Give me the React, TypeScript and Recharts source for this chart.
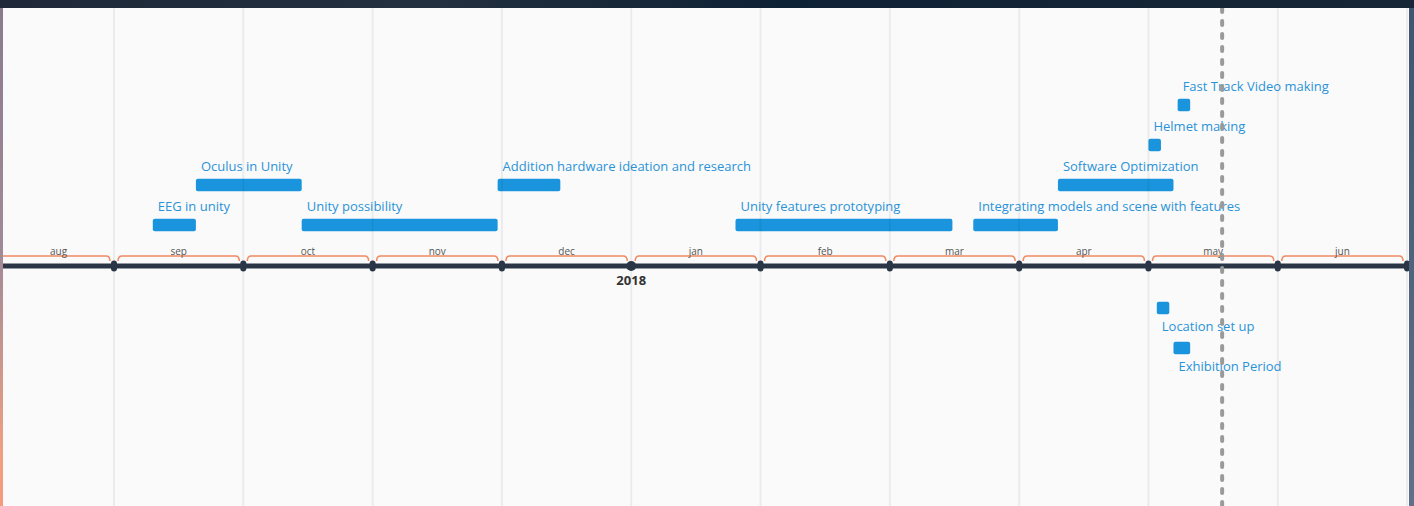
import React from "react";
import {
  ComposedChart,
  XAxis,
  YAxis,
  Scatter,
  ReferenceArea,
  ReferenceLine,
} from "recharts";

// ---------- data ----------
const monthNames = ["aug", "sep", "oct", "nov", "dec", "jan", "feb", "mar", "apr", "may", "jun"];
const yearMarker = { label: "2018", date: "2018-01-01" };
const today = "2018-05-18T16";

const taskNames = [
  "EEG in unity",
  "Oculus in Unity",
  "Unity possibility",
  "Addition hardware ideation and research",
  "Unity features prototyping",
  "Integrating models and scene with features",
  "Software Optimization",
  "Helmet making",
  "Fast Track Video making",
  "Location set up",
  "Exhibition Period",
];
const taskStarts = [
  "2017-09-10",
  "2017-09-20",
  "2017-10-15",
  "2017-11-30",
  "2018-01-26",
  "2018-03-21",
  "2018-04-10",
  "2018-05-01",
  "2018-05-08",
  "2018-05-03",
  "2018-05-07",
];
const taskEnds = [
  "2017-09-20",
  "2017-10-15",
  "2017-11-30",
  "2017-12-15",
  "2018-03-16",
  "2018-04-10",
  "2018-05-07",
  "2018-05-04",
  "2018-05-11",
  "2018-05-06",
  "2018-05-11",
];
const taskLevels = [1, 2, 1, 2, 1, 1, 2, 3, 4, -1, -2];

// ---------- helpers ----------
// month index: Aug 2017 = 0, Sep 2017 = 1, ...
function monthIndex(d: string): number {
  const [datePart, hourPart] = d.split("T");
  const [y, m, day] = datePart.split("-").map(Number);
  const hour = hourPart ? Number(hourPart) : 0;
  const dim = new Date(y, m, 0).getDate();
  return (y - 2017) * 12 + (m - 8) + (day - 1 + hour / 24) / dim;
}

const X_MIN = 0.1415;
const X_MAX = 11.015;
const Y_MIN = -240;
const Y_MAX = 258;
const ROW = 40;
const HALF = 6.3;

const BAR = "#1a95dd";
const LABEL = "#2a93d8";
const AXIS = "#2a3646";
const BRACE = "#f08a62";

const levelCenter = (lv: number) => (lv > 0 ? lv * ROW + 1 : lv * ROW - 2);

const tasks = taskNames.map((name, i) => ({
  name,
  x1: monthIndex(taskStarts[i]),
  x2: monthIndex(taskEnds[i]),
  level: taskLevels[i],
}));

const boundaries = monthNames.map((_, i) => ({
  m: i + 1,
  v: 0,
  major: i + 1 === Math.round(monthIndex(yearMarker.date)),
}));

const months = monthNames.map((name, i) => ({
  name,
  x1: Math.max(i, X_MIN),
  x2: Math.min(i + 1, X_MAX),
  clipped: i < X_MIN,
}));

const FONT = "'Open Sans', 'Noto Sans', sans-serif";

const BoundaryDot = (props: any) => {
  const { cx, cy, payload } = props;
  if (payload.major) {
    return <circle cx={cx} cy={cy} r={5} fill={AXIS} />;
  }
  return <rect x={cx - 3} y={cy - 5.5} width={6} height={11} rx={3} fill={AXIS} />;
};

const makeBrace = (name: string, clipped: boolean) => (p: any) => {
  const { x, y, width, height } = p;
  const top = y;
  const bot = y + height;
  const l = clipped ? x : x + 4;
  const r = x + width - 4;
  const d = clipped
    ? `M ${l} ${top} L ${r - 4} ${top} Q ${r} ${top} ${r} ${bot}`
    : `M ${l} ${bot} Q ${l} ${top} ${l + 4} ${top} L ${r - 4} ${top} Q ${r} ${top} ${r} ${bot}`;
  return (
    <g>
      <path d={d} fill="none" stroke={BRACE} strokeWidth={1.5} />
      <text
        x={x + width / 2}
        y={top - 5}
        textAnchor="middle"
        dominantBaseline="central"
        fontFamily={FONT}
        fontSize={10}
        fill="#555"
      >
        {name}
      </text>
    </g>
  );
};

const makeTask = (name: string, above: boolean) => (p: any) => {
  const { x, y, width, height } = p;
  return (
    <g>
      <rect x={x} y={y} width={width} height={height} rx={2} fill={BAR} />
      <text
        x={x + 5}
        y={above ? y - 13 : y + height + 12}
        dominantBaseline="central"
        fontFamily={FONT}
        fontSize={13}
        fill={LABEL}
      >
        {name}
      </text>
    </g>
  );
};

export default function App() {
  const W = 1406;
  const H = 498;
  return (
    <div
      style={{
        position: "absolute",
        left: 0,
        top: 0,
        width: 1414,
        height: 506,
        overflow: "hidden",
        background: "#1f2a3a",
      }}
    >
      <div
        style={{
          position: "absolute",
          left: 0,
          top: 0,
          width: 3,
          height: 506,
          background: "linear-gradient(180deg, #8a7a8c 0%, #a08a98 50%, #f0a080 90%, #f59a7a 100%)",
        }}
      />
      <div
        style={{
          position: "absolute",
          left: 1409,
          top: 0,
          width: 5,
          height: 506,
          background: "linear-gradient(180deg, #3e5470 0%, #60708a 100%)",
        }}
      />
      <div
        style={{
          position: "absolute",
          left: 0,
          top: 0,
          width: 1414,
          height: 8,
          background: "linear-gradient(90deg, #1e2838 0%, #23303f 30%, #0e2235 55%, #172636 100%)",
        }}
      />
      <div
        style={{
          position: "absolute",
          left: 3,
          top: 8,
          width: W,
          height: H,
          background: "#fafafa",
        }}
      >
        <ComposedChart width={W} height={H} margin={{ top: 0, right: 0, bottom: 0, left: 0 }}>
          <XAxis type="number" dataKey="m" domain={[X_MIN, X_MAX]} allowDataOverflow hide />
          <YAxis type="number" dataKey="v" domain={[Y_MIN, Y_MAX]} allowDataOverflow hide />

          {tasks.map((t, i) => (
            <ReferenceArea
              key={"t" + i}
              x1={t.x1}
              x2={t.x2}
              y1={levelCenter(t.level) - HALF}
              y2={levelCenter(t.level) + HALF}
              ifOverflow="extendDomain"
              shape={makeTask(t.name, t.level > 0)}
            />
          ))}

          {boundaries.map((b, i) => (
            <ReferenceLine
              key={"g" + i}
              x={b.m}
              stroke="rgba(0,0,0,0.06)"
              strokeWidth={2}
              ifOverflow="visible"
            />
          ))}

          {months.map((mo, i) => (
            <ReferenceArea
              key={"mo" + i}
              x1={mo.x1}
              x2={mo.x2}
              y1={5}
              y2={10}
              ifOverflow="visible"
              shape={makeBrace(mo.name, mo.clipped)}
            />
          ))}

          <ReferenceLine y={0} stroke={AXIS} strokeWidth={5} ifOverflow="visible" />

          <Scatter
            data={boundaries}
            dataKey="v"
            isAnimationActive={false}
            shape={BoundaryDot}
          />

          <ReferenceLine
            x={monthIndex(yearMarker.date)}
            stroke="none"
            ifOverflow="visible"
            label={(p: any) => {
              const vb = p.viewBox || {};
              return (
                <text
                  x={vb.x}
                  y={266 - 8 + 14}
                  textAnchor="middle"
                  dominantBaseline="central"
                  fontFamily={FONT}
                  fontSize={13}
                  fontWeight="bold"
                  fill="#333"
                >
                  {yearMarker.label}
                </text>
              );
            }}
          />

          <ReferenceLine
            x={monthIndex(today)}
            stroke="#9a9a9a"
            strokeWidth={4}
            strokeDasharray="4 9"
            strokeLinecap="round"
            ifOverflow="visible"
          />
        </ComposedChart>
      </div>
    </div>
  );
}
